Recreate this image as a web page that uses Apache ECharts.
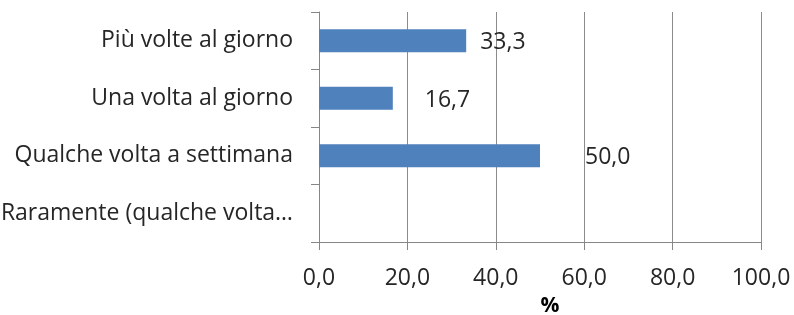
<!DOCTYPE html>
<html lang="it">
<head>
  <meta charset="UTF-8">
  <title>Frequenza</title>
  <style>
    html, body { margin: 0; padding: 0; background: #fff; }
  </style>
</head>
<body>
  <div class="main" style="width: 794px;height:315px;"></div>

  <script src="https://cdn.jsdelivr.net/npm/echarts@6/dist/echarts.min.js"></script>
  <script>
    // dati del grafico
    const categories = ['Più volte al giorno', 'Una volta al giorno', 'Qualche volta a settimana', 'Raramente (qualche volta…']
    const values = [33.3, 16.7, 50.0, 0]
    const xTicks = [0, 20, 40, 60, 80, 100]

    const FONT = 'Open Sans'
    const labelGap = [14, 32, 45, 0] // posizione etichette come nell'originale

    var myChart = echarts.init(document.querySelector('.main'))

    var option = {
      animation: false,
      grid: { left: 319, right: 33, top: 12, bottom: 73, outerBoundsMode: 'none', containLabel: false },
      xAxis: {
        type: 'value',
        min: xTicks[0],
        max: xTicks[xTicks.length - 1],
        interval: 20,
        name: '%',
        nameLocation: 'middle',
        nameGap: 54,
        nameTextStyle: { fontFamily: FONT, fontSize: 21, fontWeight: 'bold', color: '#000', padding: [0, 0, 0, 20] },
        axisLine: { show: true, lineStyle: { color: '#868686' } },
        axisTick: { show: true, length: 8, lineStyle: { color: '#868686' } },
        axisLabel: {
          fontFamily: FONT, fontSize: 23, color: '#262626', margin: 25,
          formatter: v => v.toFixed(1).replace('.', ',')
        },
        splitLine: { show: true, lineStyle: { color: '#8c8c8c' } }
      },
      yAxis: {
        type: 'category',
        inverse: true,
        data: categories,
        axisLine: { show: true, lineStyle: { color: '#868686' } },
        axisTick: { show: true, length: 8, lineStyle: { color: '#868686' } },
        axisLabel: { fontFamily: FONT, fontSize: 23, color: '#262626', margin: 26 }
      },
      series: [{
        type: 'bar',
        barCategoryGap: '60%',
        data: values.map((v, i) => ({
          value: v,
          label: { distance: labelGap[i] }
        })),
        itemStyle: { color: '#4F81BD' },
        label: {
          show: true,
          position: 'right',
          fontFamily: FONT,
          fontSize: 23,
          color: '#262626',
          offset: [0, 2],
          formatter: p => p.value ? p.value.toFixed(1).replace('.', ',') : ''
        }
      }]
    }

    myChart.setOption(option)
  </script>
</body>
</html>
